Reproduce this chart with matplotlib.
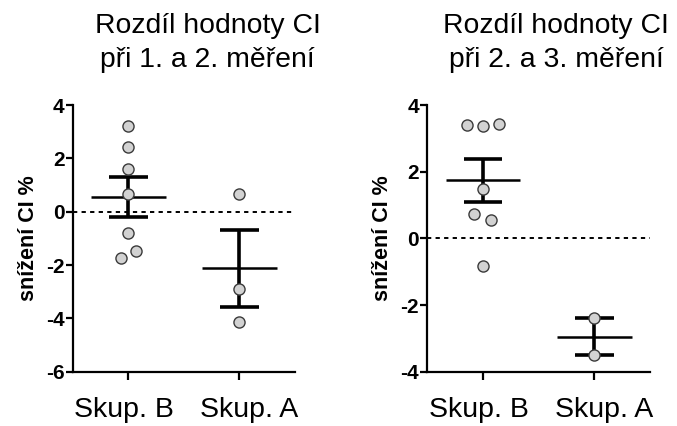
import numpy as np
import matplotlib
matplotlib.use("Agg")
import matplotlib.pyplot as plt

plt.rcParams['font.family'] = ['Liberation Sans', 'DejaVu Sans']

# ---- data ----
categories = ["Skup. B", "Skup. A"]
titles = [["Rozdíl hodnoty CI", "při 1. a 2. měření"],
          ["Rozdíl hodnoty CI", "při 2. a 3. měření"]]
ylabel = "snížení CI %"

p1_B = [3.21, 2.41, 1.59, 0.675, -0.81, -1.49, -1.73]
p1_A = [0.675, -2.91, -4.125]
p2_B = [3.41, 3.37, 3.44, 1.49, 0.73, 0.55, -0.82]
p2_A = [-2.40, -3.50]

p1_yticks = [-6, -4, -2, 0, 2, 4]
p2_yticks = [-4, -2, 0, 2, 4]

# ---- layout (jitter offsets of points, in category units) ----
p1_B_off = [0, 0, 0, 0, 0, 0.069, -0.066]
p1_A_off = [0, 0, 0]
p2_B_off = [-0.146, 0, 0.146, 0, -0.078, 0.075, 0]
p2_A_off = [0, 0]
label_shift_px = [-4, 10]

W, H = 677, 426
fig = plt.figure(figsize=(W / 100, H / 100), dpi=100)
ax1 = fig.add_axes([0.1074, 0.1275, 0.3283, 0.626])
ax2 = fig.add_axes([0.6312, 0.1275, 0.3289, 0.626])

def draw(ax, groups, offsets, yticks, title, title_x):
    for i, (vals, offs) in enumerate(zip(groups, offsets)):
        vals = np.asarray(vals)
        m = vals.mean()
        sem = vals.std(ddof=1) / np.sqrt(len(vals))
        ax.plot([i - 0.336, i + 0.336], [m, m], color='black', lw=1.8, zorder=3,
                solid_capstyle='butt')
        ax.plot([i, i], [m - sem, m + sem], color='black', lw=2.6, zorder=3,
                solid_capstyle='butt')
        for yy in (m - sem, m + sem):
            ax.plot([i - 0.175, i + 0.175], [yy, yy], color='black', lw=2.6,
                    zorder=3, solid_capstyle='butt')
        ax.scatter(i + np.asarray(offs), vals, s=64, facecolor='#d2d2d2',
                   edgecolor='#3a3a3a', linewidth=1.0, zorder=4)
    ax.axhline(0, color='black', lw=1.4, ls=(0, (2.2, 2.2)), zorder=2)
    ax.set_xlim(-0.5, 1.5)
    ax.set_ylim(yticks[0], yticks[-1])
    ax.set_yticks(yticks)
    ax.set_yticklabels([str(t) for t in yticks], fontsize=15, fontweight='bold')
    ax.set_xticks(range(len(categories)))
    ax.set_xticklabels([])
    for i, (cat, dx) in enumerate(zip(categories, label_shift_px)):
        ax.annotate(cat, xy=(i, 0), xycoords=('data', 'axes fraction'),
                    xytext=(dx * 0.72, -45 * 0.72), textcoords='offset points',
                    ha='center', va='baseline', fontsize=20.5,
                    annotation_clip=False)
    for s in ('top', 'right'):
        ax.spines[s].set_visible(False)
    for s in ('left', 'bottom'):
        ax.spines[s].set_linewidth(1.6)
    ax.tick_params(axis='y', length=5, width=1.6, pad=1)
    ax.tick_params(axis='x', length=6, width=1.6, pad=9)
    ax.set_ylabel(ylabel, fontsize=15.5, fontweight='bold', labelpad=5)
    fig.text(title_x, 1 - 33.3 / H, title[0], ha='center', va='baseline',
             fontsize=20.4)
    fig.text(title_x, 1 - 66.7 / H, title[1], ha='center', va='baseline',
             fontsize=20.4)

draw(ax1, [p1_B, p1_A], [p1_B_off, p1_A_off], p1_yticks, titles[0], 207.5 / W)
draw(ax2, [p2_B, p2_A], [p2_B_off, p2_A_off], p2_yticks, titles[1], 556 / W)

fig.savefig("out.png", dpi=100)
